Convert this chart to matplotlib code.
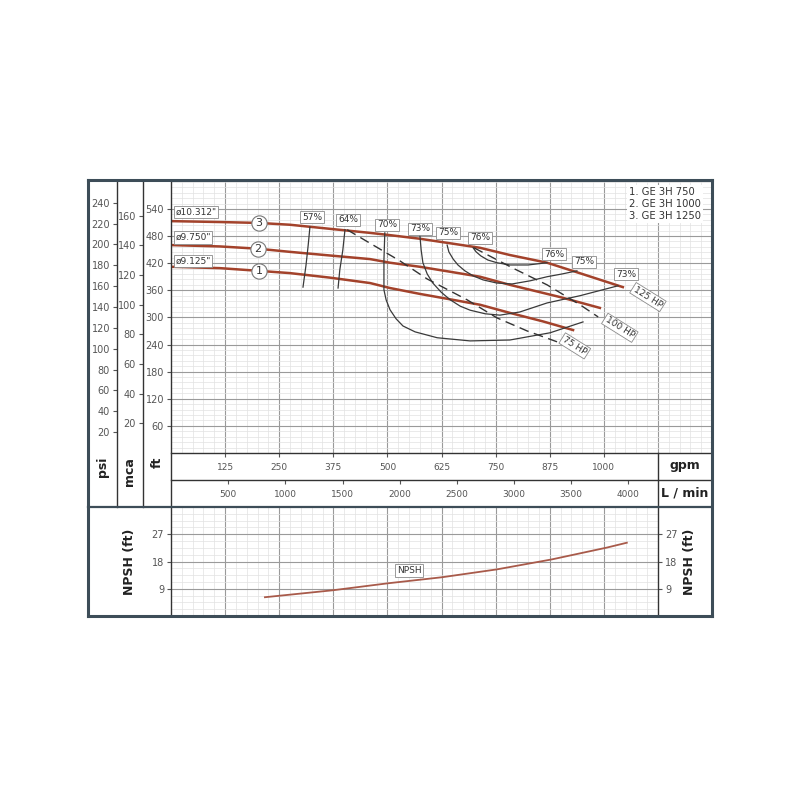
import matplotlib
matplotlib.use("Agg")
import matplotlib.pyplot as plt
from matplotlib.lines import Line2D
import numpy as np

# impeller head curves (gpm, ft)
gpm_3 = [0, 113, 203, 275, 367, 460, 506, 575, 645, 714, 783, 869, 957, 1044]
ft_3 = [513, 511, 509, 505, 496, 487, 482, 474, 464, 454, 438, 421, 394, 367]
gpm_2 = [0, 113, 201, 275, 367, 460, 506, 575, 645, 714, 783, 899, 991]
ft_2 = [460, 457, 452, 445, 437, 429, 421, 412, 401, 390, 372, 345, 321]
gpm_1 = [0, 113, 203, 275, 367, 460, 506, 575, 645, 714, 783, 860, 929]
ft_1 = [412, 409, 403, 398, 388, 376, 365, 352, 340, 328, 310, 291, 272]
diam_labels = ['ø10.312"', 'ø9.750"', 'ø9.125"']
diam_ft = [533, 477, 425]
legend_lines = ['1. GE 3H 750', '2. GE 3H 1000', '3. GE 3H 1250']

# efficiency iso-curves (gpm, ft)
eff_curves = {
    '57': ([321, 317, 312, 305], [500, 460, 416, 367]),
    '64': ([402, 397, 390, 386], [494, 449, 405, 365]),
    '70': ([494, 492, 492, 497, 506, 520, 536, 564, 615, 691, 783, 876, 952],
           [487, 427, 361, 339, 317, 297, 281, 268, 255, 248, 250, 266, 290]),
    '73': ([575, 578, 582, 592, 605, 624, 645, 668, 691, 726, 760, 806, 869, 945, 1033],
           [482, 449, 421, 396, 376, 356, 339, 325, 316, 308, 305, 312, 332, 348, 370]),
    '75': ([638, 642, 652, 663, 679, 698, 721, 753, 788, 830, 869, 903, 938],
           [460, 445, 429, 416, 403, 392, 383, 376, 374, 381, 390, 396, 403]),
    '76': ([698, 705, 716, 732, 753, 783, 825, 869],
           [454, 445, 436, 427, 421, 416, 416, 421]),
}
eff_label_text = ['57%', '64%', '70%', '73%', '75%', '76%', '76%', '75%', '73%']
eff_label_gpm = [326, 409, 499, 575, 640, 714, 885, 954, 1051]
eff_label_ft = [522, 516, 505, 496, 487, 476, 440, 423, 396]

# power lines
hp75_gpm = [407, 529, 592, 684, 753, 823, 892]
hp75_ft = [494, 425, 385, 339, 299, 270, 246]
hp100_gpm = [700, 790, 869, 945, 987]
hp100_ft = [454, 409, 372, 328, 301]
hp_label_text = ['125 HP', '100 HP', '75 HP']
hp_label_gpm = [1102, 1037, 933]
hp_label_ft = [345, 277, 237]

# NPSH curve
npsh_gpm = [217, 374, 501, 626, 753, 880, 1007, 1053]
npsh_ft = [6.2, 8.5, 10.8, 12.8, 15.4, 18.7, 22.6, 24.2]

gpm_ticks = [125, 250, 375, 500, 625, 750, 875, 1000]
lmin_ticks = [500, 1000, 1500, 2000, 2500, 3000, 3500, 4000]

FT_MAX = 604
PSI_FT = 2.3067
M_FT = 3.2808
LPM_GPM = 3.7854

RED = '#a3422b'
DARK = '#3a3a3a'
FRAME = '#3d4d58'
TICKC = '#555555'

fig = plt.figure(figsize=(8, 8), dpi=100)
fig.patch.set_facecolor('white')


def px_axes(x0, y0, x1, y1):
    return fig.add_axes([x0 / 800, 1 - y1 / 800, (x1 - x0) / 800, (y1 - y0) / 800])


def fig_line(x0, y0, x1, y1, color='#333333', lw=1.0):
    fig.add_artist(Line2D([x0 / 800, x1 / 800], [1 - y0 / 800, 1 - y1 / 800],
                          transform=fig.transFigure, color=color, lw=lw, zorder=10))


box = dict(boxstyle='square,pad=0.18', fc='white', ec='#8a8a8a', lw=0.6)

# main head chart
ax = px_axes(171, 180, 712, 453)
ax.set_xlim(0, 1250)
ax.set_ylim(0, FT_MAX)
ax.set_xticks(np.arange(125, 1250, 125))
ax.set_xticks(np.arange(0, 1251, 25), minor=True)
ax.set_yticks(np.arange(60, 541, 60))
ax.set_yticks(np.arange(0, FT_MAX, 12), minor=True)
ax.grid(which='major', color='#9a9a9a', lw=0.8)
ax.grid(which='minor', color='#e2e2e2', lw=0.5)
ax.set_axisbelow(True)
ax.tick_params(axis='x', which='both', length=0, labelbottom=False)
ax.tick_params(axis='y', which='major', direction='out', length=3, labelsize=7,
               colors=TICKC, pad=2)
ax.tick_params(axis='y', which='minor', length=0)
for s in ax.spines.values():
    s.set_visible(False)

for g, f, c in [(gpm_3, ft_3, '3'), (gpm_2, ft_2, '2'), (gpm_1, ft_1, '1')]:
    ax.plot(g, f, color=RED, lw=1.8, zorder=3, solid_joinstyle='round')
    ax.plot(g[2], f[2], 'o', ms=11, mfc='white', mec='#777777', mew=0.8, zorder=5)
    ax.text(g[2], f[2], c, ha='center', va='center', fontsize=8, color='#333', zorder=6)

for lab, f in zip(diam_labels, diam_ft):
    ax.text(10, f, lab, ha='left', va='center', fontsize=6.5, color='#333',
            bbox=box, zorder=6)

for key, (g, f) in eff_curves.items():
    ax.plot(g, f, color=DARK, lw=0.9, zorder=4, solid_joinstyle='round')

ax.plot(hp75_gpm, hp75_ft, color='#333333', lw=1.0, dashes=(7, 4), zorder=4)
ax.plot(hp100_gpm, hp100_ft, color='#333333', lw=1.0, dashes=(7, 4), zorder=4)

for t, g, f in zip(eff_label_text, eff_label_gpm, eff_label_ft):
    ax.text(g, f, t, ha='center', va='center', fontsize=6.5, color='#333',
            bbox=box, zorder=7)
for t, g, f in zip(hp_label_text, hp_label_gpm, hp_label_ft):
    ax.text(g, f, t, ha='center', va='center', fontsize=6.5, color='#333',
            rotation=-32, rotation_mode='anchor', bbox=box, zorder=7)

ax.text(0.847, 0.975, '\n'.join(legend_lines), transform=ax.transAxes, ha='left',
        va='top', fontsize=7.2, color='#333', linespacing=1.25,
        bbox=dict(boxstyle='square,pad=0.2', fc='white', ec='none'), zorder=7)

# psi and mca columns
for x, scale, ticks in [(117, PSI_FT, np.arange(20, 241, 20)),
                        (143, M_FT, np.arange(20, 161, 20))]:
    a = px_axes(x, 180, x + 1, 453)
    a.patch.set_visible(False)
    a.set_ylim(0, FT_MAX / scale)
    a.set_yticks(ticks)
    a.set_xticks([])
    a.tick_params(axis='y', direction='out', length=3, labelsize=7, colors=TICKC, pad=2)
    for s in a.spines.values():
        s.set_visible(False)

# flow scales strip
ag = px_axes(171, 453, 658, 480)
ag.set_xlim(0, 1125)
ag.set_ylim(0, 1)
ag.set_xticks(gpm_ticks)
ag.set_yticks([])
ag.tick_params(axis='x', top=True, bottom=False, direction='in', length=3,
               labelbottom=False, colors=TICKC)
for v in gpm_ticks:
    ag.text(v, 0.45, str(v), ha='center', va='center', fontsize=6.5, color=TICKC,
            transform=ag.get_xaxis_transform())
for s in ag.spines.values():
    s.set_visible(False)

al = px_axes(171, 480, 658, 507)
al.set_xlim(0, 1125 * LPM_GPM)
al.set_ylim(0, 1)
al.set_xticks(lmin_ticks)
al.set_yticks([])
al.tick_params(axis='x', top=True, bottom=False, direction='in', length=3,
               labelbottom=False, colors=TICKC)
for v in lmin_ticks:
    al.text(v, 0.45, str(v), ha='center', va='center', fontsize=6.5, color=TICKC,
            transform=al.get_xaxis_transform())
for s in al.spines.values():
    s.set_visible(False)

# NPSH chart
an = px_axes(171, 507, 658, 616)
an.set_xlim(0, 1125)
an.set_ylim(0, 36)
an.set_xticks(np.arange(125, 1125, 125))
an.set_xticks(np.arange(0, 1126, 25), minor=True)
an.set_yticks([9, 18, 27])
an.set_yticks(np.arange(0, 36, 2.25), minor=True)
an.grid(which='major', color='#9a9a9a', lw=0.8)
an.grid(which='minor', color='#e2e2e2', lw=0.5)
an.set_axisbelow(True)
an.tick_params(axis='x', which='both', length=0, labelbottom=False)
an.tick_params(axis='y', which='major', direction='out', length=3, labelsize=7,
               colors=TICKC, left=True, right=True, labelleft=True, labelright=True, pad=2)
an.tick_params(axis='y', which='minor', length=0)
for s in an.spines.values():
    s.set_visible(False)
an.plot(npsh_gpm, npsh_ft, color='#a85a4a', lw=1.3, zorder=3)
an.text(550, 15.0, 'NPSH', ha='center', va='center', fontsize=6.5, color='#333',
        bbox=box, zorder=6)

# column / row labels
lab = dict(fontsize=9, fontweight='bold', color='#222', rotation=90, ha='center', va='top')
fig.text(102 / 800, 1 - 457 / 800, 'psi', **lab)
fig.text(130 / 800, 1 - 457 / 800, 'mca', **lab)
fig.text(157 / 800, 1 - 457 / 800, 'ft', **lab)
fig.text(685 / 800, 1 - 466 / 800, 'gpm', fontsize=9, fontweight='bold', color='#222',
         ha='center', va='center')
fig.text(685 / 800, 1 - 493 / 800, 'L / min', fontsize=9, fontweight='bold', color='#222',
         ha='center', va='center')
fig.text(130 / 800, 1 - 562 / 800, 'NPSH (ft)', fontsize=9, fontweight='bold',
         color='#222', rotation=90, ha='center', va='center')
fig.text(690 / 800, 1 - 562 / 800, 'NPSH (ft)', fontsize=9, fontweight='bold',
         color='#222', rotation=90, ha='center', va='center')

# frame and dividers
fig_line(117, 180, 117, 507)
fig_line(143, 180, 143, 507)
fig_line(171, 180, 171, 616)
fig_line(658, 453, 658, 616)
fig_line(171, 453, 712, 453)
fig_line(171, 480, 712, 480)
fig_line(88, 507, 712, 507, color=FRAME, lw=1.6)
fig_line(88, 180, 712, 180, color=FRAME, lw=2.2)
fig_line(88, 616, 712, 616, color=FRAME, lw=2.2)
fig_line(88, 180, 88, 616, color=FRAME, lw=2.2)
fig_line(712, 180, 712, 616, color=FRAME, lw=2.2)

fig.savefig('out.png', dpi=100)
